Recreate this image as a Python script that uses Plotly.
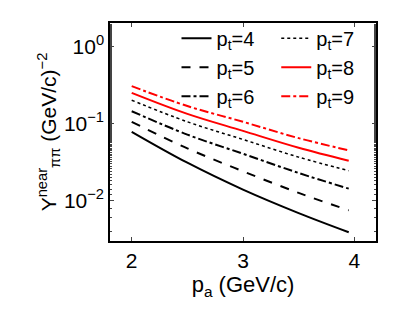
import plotly.graph_objects as go

pa = [2.0, 2.5, 3.0, 3.5, 3.95]
pt_labels = ["4", "5", "6", "7", "8", "9"]
y_pt4 = [0.078, 0.031, 0.0139, 0.0069, 0.0039]
y_pt5 = [0.105, 0.0475, 0.024, 0.0126, 0.0075]
y_pt6 = [0.144, 0.0716, 0.0405, 0.0228, 0.0143]
y_pt7 = [0.200, 0.105, 0.062, 0.0366, 0.0244]
y_pt8 = [0.249, 0.133, 0.080, 0.0484, 0.0329]
y_pt9 = [0.304, 0.168, 0.105, 0.0645, 0.0448]
series = [y_pt4, y_pt5, y_pt6, y_pt7, y_pt8, y_pt9]
colors = ["black", "black", "black", "black", "#ff0000", "#ff0000"]
dashes = ["solid", "dash", "dashdot", "dot", "solid", "dashdot"]
widths = [2, 2, 2, 1.5, 2, 2]
legends = ["legend", "legend", "legend", "legend2", "legend2", "legend2"]

y_tickvals = [1, 0.1, 0.01]
y_ticktext = ["10<sup>0</sup>", "10<sup>\u22121</sup>", "10<sup>\u22122</sup>"]
x_tickvals = [2, 3, 4]

fig = go.Figure()
for lab, ys, c, d, w, lg in zip(pt_labels, series, colors, dashes, widths, legends):
    fig.add_trace(go.Scatter(
        x=pa, y=ys, mode="lines", line=dict(color=c, dash=d, width=w, shape="spline"),
        name="p<sub>t</sub>=" + lab, legend=lg))

font = dict(family="Liberation Sans, Arial, sans-serif", size=21, color="black")
fig.update_layout(
    width=415, height=313,
    margin=dict(l=110, r=39, t=23, b=72),
    paper_bgcolor="white", plot_bgcolor="white",
    font=font,
    legend=dict(x=0.25, y=1.02, xanchor="left", yanchor="top", bgcolor="rgba(0,0,0,0)",
                font=dict(size=20), tracegroupgap=0, itemwidth=30),
    legend2=dict(x=0.625, y=1.02, xanchor="left", yanchor="top", bgcolor="rgba(0,0,0,0)",
                 font=dict(size=20), tracegroupgap=0, itemwidth=30),
)
fig.update_xaxes(range=[1.805, 4.195], tickvals=x_tickvals, ticks="inside", ticklen=4,
                 showline=True, linecolor="black", linewidth=1.5, mirror="ticks",
                 showgrid=False, zeroline=False, tickfont=dict(size=21),
                 title=dict(text="p<sub>a</sub> (GeV/c)", standoff=0, font=dict(size=22)))
fig.update_yaxes(type="log", range=[-2.523, 0.301], tickvals=y_tickvals, ticktext=y_ticktext,
                 ticks="inside", ticklen=4, showline=True, linecolor="black", linewidth=1.5,
                 mirror="ticks", showgrid=False, zeroline=False, tickfont=dict(size=21),
                 minor=dict(ticks="inside", ticklen=2, showgrid=False),
                 title=dict(text="Y<sup>near</sup><sub>\u03c0\u03c0</sub> (GeV/c)<sup>\u22122</sup>",
                            standoff=2, font=dict(size=21)))
fig.write_html("out.html", config={"displayModeBar": False},
               post_script="document.body.style.margin='0';document.body.style.overflow='hidden';")
